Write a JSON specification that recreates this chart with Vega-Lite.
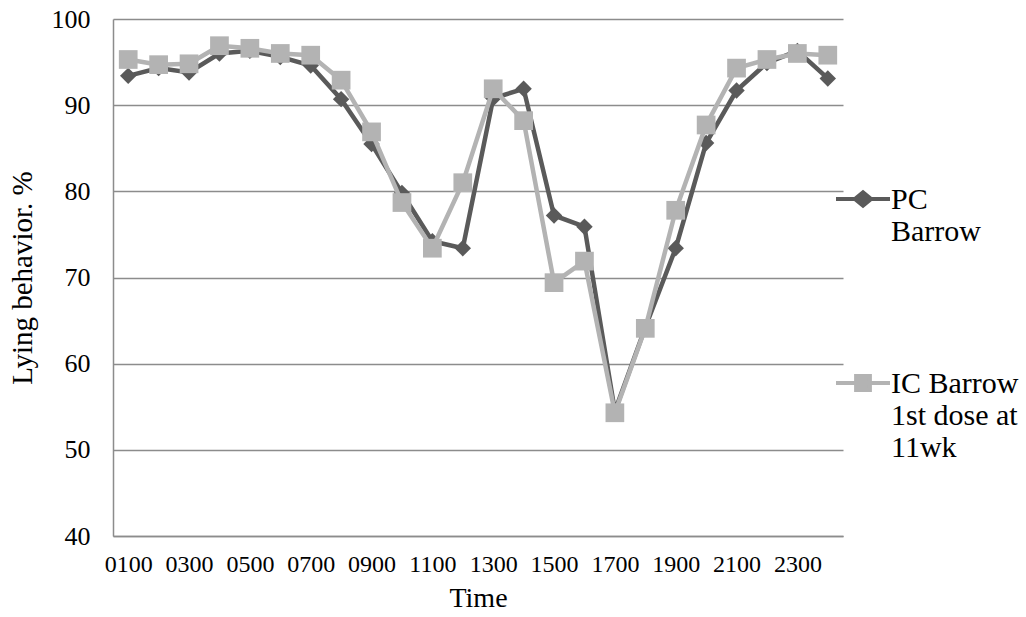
{
  "$schema": "https://vega.github.io/schema/vega-lite/v6.json",
  "description": "Lying behavior by time of day, PC vs IC barrows.",
  "autosize": "none",
  "padding": {"left": 113, "top": 19, "right": 183, "bottom": 81},
  "width": 730,
  "height": 517,
  "data": {
    "values": [
      {"time": "0100", "series": "PC Barrow", "value": 93.4},
      {"time": "0200", "series": "PC Barrow", "value": 94.3},
      {"time": "0300", "series": "PC Barrow", "value": 93.8},
      {"time": "0400", "series": "PC Barrow", "value": 96.0},
      {"time": "0500", "series": "PC Barrow", "value": 96.3},
      {"time": "0600", "series": "PC Barrow", "value": 95.6},
      {"time": "0700", "series": "PC Barrow", "value": 94.6},
      {"time": "0800", "series": "PC Barrow", "value": 90.7},
      {"time": "0900", "series": "PC Barrow", "value": 85.5},
      {"time": "1000", "series": "PC Barrow", "value": 79.8},
      {"time": "1100", "series": "PC Barrow", "value": 74.2},
      {"time": "1200", "series": "PC Barrow", "value": 73.4},
      {"time": "1300", "series": "PC Barrow", "value": 90.8},
      {"time": "1400", "series": "PC Barrow", "value": 91.9},
      {"time": "1500", "series": "PC Barrow", "value": 77.2},
      {"time": "1600", "series": "PC Barrow", "value": 75.9},
      {"time": "1700", "series": "PC Barrow", "value": 54.5},
      {"time": "1800", "series": "PC Barrow", "value": 64.2},
      {"time": "1900", "series": "PC Barrow", "value": 73.4},
      {"time": "2000", "series": "PC Barrow", "value": 85.6},
      {"time": "2100", "series": "PC Barrow", "value": 91.7},
      {"time": "2200", "series": "PC Barrow", "value": 94.9},
      {"time": "2300", "series": "PC Barrow", "value": 96.3},
      {"time": "2400", "series": "PC Barrow", "value": 93.1},
      {"time": "0100", "series": "IC Barrow 1st dose at 11wk", "value": 95.3},
      {"time": "0200", "series": "IC Barrow 1st dose at 11wk", "value": 94.7},
      {"time": "0300", "series": "IC Barrow 1st dose at 11wk", "value": 94.8},
      {"time": "0400", "series": "IC Barrow 1st dose at 11wk", "value": 96.9},
      {"time": "0500", "series": "IC Barrow 1st dose at 11wk", "value": 96.6},
      {"time": "0600", "series": "IC Barrow 1st dose at 11wk", "value": 96.0},
      {"time": "0700", "series": "IC Barrow 1st dose at 11wk", "value": 95.8},
      {"time": "0800", "series": "IC Barrow 1st dose at 11wk", "value": 92.9},
      {"time": "0900", "series": "IC Barrow 1st dose at 11wk", "value": 86.9},
      {"time": "1000", "series": "IC Barrow 1st dose at 11wk", "value": 78.7},
      {"time": "1100", "series": "IC Barrow 1st dose at 11wk", "value": 73.4},
      {"time": "1200", "series": "IC Barrow 1st dose at 11wk", "value": 81.0},
      {"time": "1300", "series": "IC Barrow 1st dose at 11wk", "value": 91.9},
      {"time": "1400", "series": "IC Barrow 1st dose at 11wk", "value": 88.2},
      {"time": "1500", "series": "IC Barrow 1st dose at 11wk", "value": 69.4},
      {"time": "1600", "series": "IC Barrow 1st dose at 11wk", "value": 71.9},
      {"time": "1700", "series": "IC Barrow 1st dose at 11wk", "value": 54.3},
      {"time": "1800", "series": "IC Barrow 1st dose at 11wk", "value": 64.1},
      {"time": "1900", "series": "IC Barrow 1st dose at 11wk", "value": 77.8},
      {"time": "2000", "series": "IC Barrow 1st dose at 11wk", "value": 87.7},
      {"time": "2100", "series": "IC Barrow 1st dose at 11wk", "value": 94.3},
      {"time": "2200", "series": "IC Barrow 1st dose at 11wk", "value": 95.3},
      {"time": "2300", "series": "IC Barrow 1st dose at 11wk", "value": 96.0},
      {"time": "2400", "series": "IC Barrow 1st dose at 11wk", "value": 95.8}
    ]
  },
  "encoding": {
    "x": {
      "field": "time",
      "type": "ordinal",
      "sort": null,
      "title": "Time",
      "scale": {"type": "point", "padding": 0.5},
      "axis": {
        "values": ["0100", "0300", "0500", "0700", "0900", "1100", "1300", "1500", "1700", "1900", "2100", "2300"],
        "labelAngle": 0,
        "ticks": false,
        "labelPadding": 16,
        "labelFontSize": 24,
        "titleFontSize": 28,
        "titlePadding": 8,
        "grid": false
      }
    },
    "y": {
      "field": "value",
      "type": "quantitative",
      "title": "Lying behavior. %",
      "scale": {"domain": [40, 100], "nice": false},
      "axis": {
        "values": [40, 50, 60, 70, 80, 90, 100],
        "ticks": false,
        "labelPadding": 23,
        "labelFontSize": 26,
        "titleFontSize": 29,
        "titlePadding": 14,
        "grid": true
      }
    },
    "color": {
      "field": "series",
      "type": "nominal",
      "scale": {
        "domain": ["PC Barrow", "IC Barrow 1st dose at 11wk"],
        "range": ["#5a5a5a", "#b3b3b3"]
      },
      "legend": {
        "title": null,
        "orient": "none",
        "legendX": 718,
        "legendY": 148,
        "padding": 0,
        "rowPadding": 104,
        "symbolSize": 3600,
        "symbolStrokeWidth": 4,
        "symbolOffset": 0,
        "labelOffset": -4,
        "labelFontSize": 30,
        "labelBaseline": "alphabetic",
        "labelExpr": "datum.value == 'PC Barrow' ? ['PC', 'Barrow'] : ['IC Barrow', '1st dose at', '11wk']",
        "encode": {
          "symbols": {
            "update": {
              "shape": {"signal": "datum.value == 'PC Barrow' ? 'M-0.9,0H0.9M0,-0.22L0.27,0L0,0.22L-0.27,0Z' : 'M-0.9,0H0.9M-0.23,-0.23H0.23V0.23H-0.23Z'"},
              "fill": {"signal": "datum.value == 'PC Barrow' ? '#5a5a5a' : '#b3b3b3'"},
              "stroke": {"signal": "datum.value == 'PC Barrow' ? '#5a5a5a' : '#b3b3b3'"},
              "strokeWidth": {"value": 4}
            }
          },
          "labels": {
            "update": {
              "lineHeight": {"value": 32},
              "dy": {"value": 10}
            }
          }
        }
      }
    }
  },
  "layer": [
    {
      "transform": [{"filter": "datum.series == 'PC Barrow'"}],
      "mark": {"type": "line", "strokeWidth": 4.5}
    },
    {
      "transform": [{"filter": "datum.series == 'PC Barrow'"}],
      "mark": {"type": "point", "shape": "diamond", "filled": true, "size": 270, "opacity": 1}
    },
    {
      "transform": [{"filter": "datum.series != 'PC Barrow'"}],
      "mark": {"type": "line", "strokeWidth": 4.5}
    },
    {
      "transform": [{"filter": "datum.series != 'PC Barrow'"}],
      "mark": {"type": "point", "shape": "square", "filled": true, "size": 350, "opacity": 1}
    }
  ],
  "config": {
    "font": "Liberation Serif",
    "background": "white",
    "view": {"stroke": null},
    "axis": {
      "domainColor": "#8c8c8c",
      "domainWidth": 1.5,
      "gridColor": "#8c8c8c",
      "gridWidth": 1.5,
      "gridOpacity": 1,
      "labelColor": "#000000",
      "titleColor": "#000000",
      "titleFontWeight": "normal"
    },
    "legend": {"labelColor": "#000000", "labelLimit": 0}
  }
}
